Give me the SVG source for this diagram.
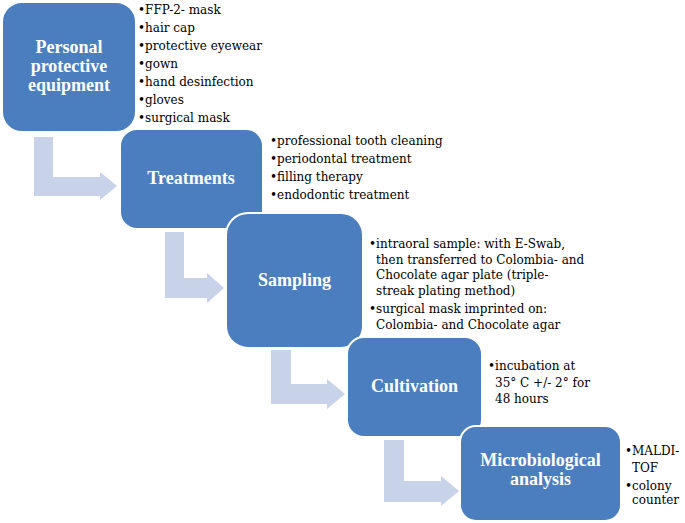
<svg xmlns="http://www.w3.org/2000/svg" width="685" height="523" viewBox="0 0 685 523">
<style>
.box{fill:#4a7ebf;stroke:#ffffff;stroke-width:2}
.arr{fill:#c8d3e9}
.t{font-family:"Liberation Serif",serif;font-weight:bold;font-size:18px;fill:#ffffff;text-anchor:middle}
.b{font-family:"DejaVu Serif","Liberation Serif",serif;font-size:12px;fill:#000000}
</style>
<rect width="685" height="523" fill="#ffffff"/>
<g id="connectors">
<path class="arr" d="M34,137 H53 V177 H100 V172 L117,186 L100,200 V196 H34 Z"/>
<path class="arr" d="M165,232 H184 V278 H207 V273 L224,288 L207,303 V298 H165 Z"/>
<path class="arr" d="M271,350 H291 V384 H327 V379 L345,394 L327,409 V404 H271 Z"/>
<path class="arr" d="M384,440 H404 V481 H441 V476 L459,491 L441,506 V502 H384 Z"/>
</g>
<g id="node1">
<rect class="box" x="2" y="2" width="134" height="130" rx="20"/>
<text class="t" x="69" y="53">Personal</text>
<text class="t" x="69" y="72">protective</text>
<text class="t" x="69" y="91">equipment</text>
<text class="b" x="138" y="14">•FFP-2- mask</text>
<text class="b" x="138" y="32">•hair cap</text>
<text class="b" x="138" y="50">•protective eyewear</text>
<text class="b" x="138" y="68">•gown</text>
<text class="b" x="138" y="86">•hand desinfection</text>
<text class="b" x="138" y="104">•gloves</text>
<text class="b" x="138" y="122">•surgical mask</text>
</g>
<g id="node2">
<rect class="box" x="120" y="129" width="143" height="100" rx="17"/>
<text class="t" x="191" y="184">Treatments</text>
<text class="b" x="270" y="145">•professional tooth cleaning</text>
<text class="b" x="270" y="163">•periodontal treatment</text>
<text class="b" x="270" y="181">•filling therapy</text>
<text class="b" x="270" y="199">•endodontic treatment</text>
</g>
<g id="node3">
<rect class="box" x="226" y="213" width="137" height="135" rx="22"/>
<text class="t" x="294.5" y="286">Sampling</text>
<text class="b" x="369" y="248">•intraoral sample: with E-Swab,</text>
<text class="b" x="376" y="263.5">then transferred to Colombia- and</text>
<text class="b" x="376" y="279">Chocolate agar plate (triple-</text>
<text class="b" x="376" y="294.5">streak plating method)</text>
<text class="b" x="369" y="313">•surgical mask imprinted on:</text>
<text class="b" x="376" y="328.5">Colombia- and Chocolate agar</text>
</g>
<g id="node4">
<rect class="box" x="347" y="337" width="135" height="100" rx="17"/>
<text class="t" x="414.5" y="392">Cultivation</text>
<text class="b" x="488" y="370">•incubation at</text>
<text class="b" x="495" y="387">35° C +/- 2° for</text>
<text class="b" x="495" y="403">48 hours</text>
</g>
<g id="node5">
<rect class="box" x="460" y="426" width="161" height="95" rx="16"/>
<text class="t" x="540.5" y="466">Microbiological</text>
<text class="t" x="540.5" y="485">analysis</text>
<text class="b" x="625" y="455">•MALDI-</text>
<text class="b" x="632" y="472">TOF</text>
<text class="b" x="625" y="490">•colony</text>
<text class="b" x="632" y="504">counter</text>
</g>
</svg>
